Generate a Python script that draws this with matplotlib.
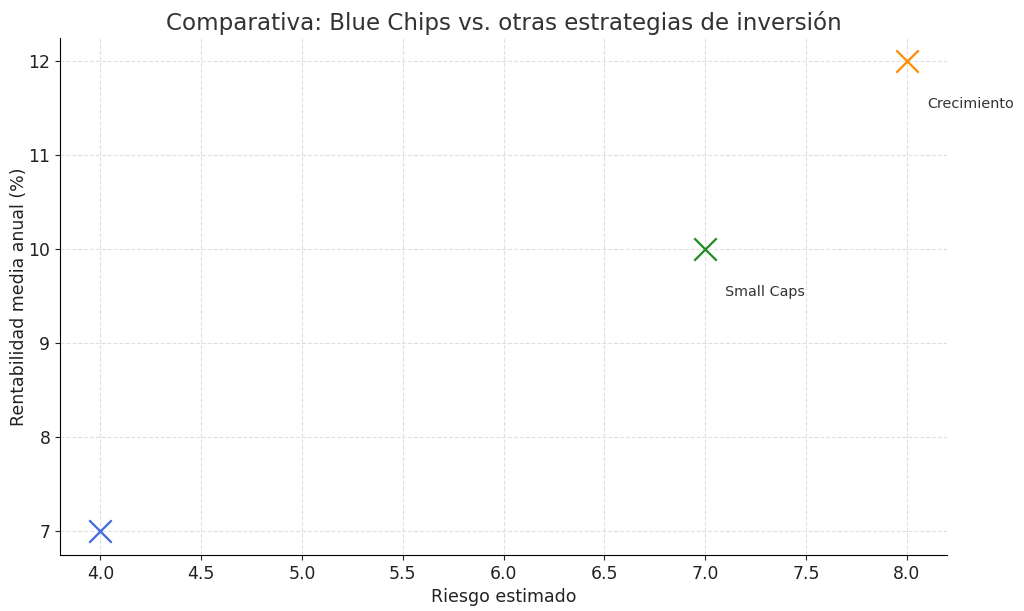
import matplotlib
matplotlib.use("Agg")
import matplotlib.pyplot as plt

# datos
estrategias = ["Blue Chips", "Small Caps", "Crecimiento"]
riesgo = [4, 7, 8]
rentabilidad = [7, 10, 12]
colores = ["royalblue", "forestgreen", "darkorange"]
etiquetas_visibles = [False, True, True]

fig, ax = plt.subplots(figsize=(10.24, 6.11), dpi=100)
fig.subplots_adjust(left=0.0586, right=0.925, bottom=0.0917, top=0.938)

for nombre, x, y, c, visible in zip(estrategias, riesgo, rentabilidad, colores, etiquetas_visibles):
    ax.scatter(x, y, marker="x", s=260, color=c, linewidths=1.6, zorder=3)
    if visible:
        ax.text(x + 0.1, y - 0.5, nombre, fontsize=10.4, color="#333333")

ax.set_title("Comparativa: Blue Chips vs. otras estrategias de inversión",
             fontsize=16.6, color="#333333")
ax.set_xlabel("Riesgo estimado", fontsize=12.5, color="#222222")
ax.set_ylabel("Rentabilidad media anual (%)", fontsize=12.5, color="#222222",
              labelpad=0)
ax.tick_params(labelsize=12.4, colors="#222222")
ax.grid(True, linestyle="--", color="#e0e0e0", linewidth=0.8)
ax.spines["top"].set_visible(False)
ax.spines["right"].set_visible(False)

fig.savefig("out.png", dpi=100)
